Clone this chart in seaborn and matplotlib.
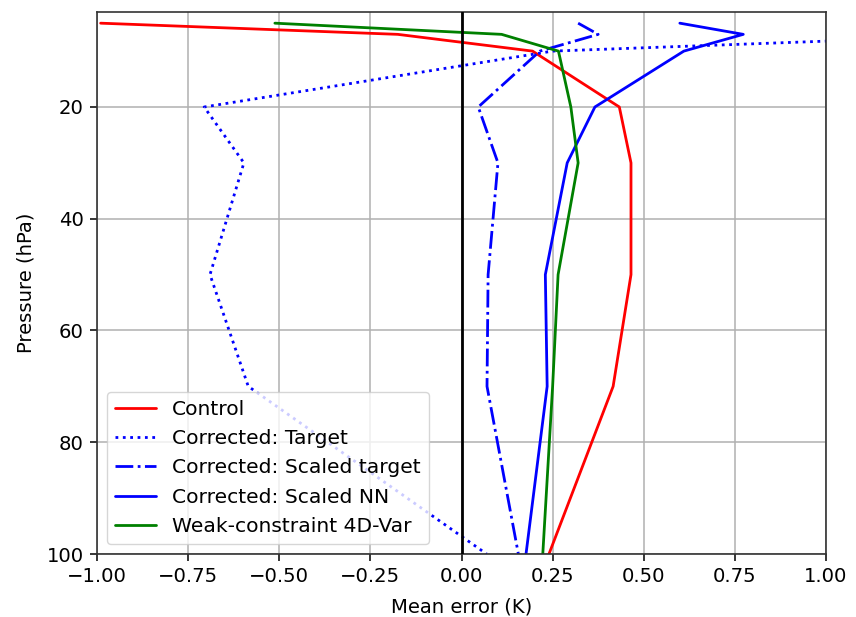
import matplotlib
matplotlib.use("Agg")
import matplotlib.pyplot as plt
import seaborn as sns
import pandas as pd

# Pressure levels (hPa)
pressure = [5, 7, 10, 20, 30, 50, 70, 100]

# Mean temperature error (K) per pressure level
control = [-0.99, -0.175, 0.195, 0.433, 0.465, 0.465, 0.416, 0.24]
corrected_target = [1.8, 1.51, 0.25, -0.706, -0.597, -0.69, -0.585, 0.069]
corrected_scaled_target = [0.32, 0.375, 0.215, 0.046, 0.10, 0.073, 0.07, 0.156]
corrected_scaled_nn = [0.599, 0.773, 0.61, 0.366, 0.29, 0.23, 0.235, 0.177]
weak_constraint = [-0.512, 0.11, 0.266, 0.30, 0.32, 0.265, 0.25, 0.223]

series = [
    ("Control", control, "red", "-"),
    ("Corrected: Target", corrected_target, "blue", ":"),
    ("Corrected: Scaled target", corrected_scaled_target, "blue", "-."),
    ("Corrected: Scaled NN", corrected_scaled_nn, "blue", "-"),
    ("Weak-constraint 4D-Var", weak_constraint, "green", "-"),
]

sns.set_style("white")
plt.rcParams["font.family"] = ["DejaVu Sans"]
plt.rcParams["text.color"] = "black"
plt.rcParams["axes.labelcolor"] = "black"
fs = 14.1

fig = plt.figure(figsize=(8.56, 6.17), dpi=100)
ax = fig.add_axes([97 / 856, 1 - 554 / 617, (826 - 97) / 856, (554 - 12) / 617])

for name, vals, color, ls in series:
    df = pd.DataFrame({"err": vals, "p": pressure})
    sns.lineplot(data=df, x="err", y="p", sort=False, estimator=None,
                 orient="y", color=color, linestyle=ls, linewidth=2.0,
                 label=name, ax=ax)

ax.axvline(0, color="black", linewidth=2.0, zorder=3)

ax.set_xlim(-1, 1)
ax.set_ylim(100, 3)
ax.set_xticks([-1, -0.75, -0.5, -0.25, 0, 0.25, 0.5, 0.75, 1])
ax.set_xticklabels(["−1.00", "−0.75", "−0.50", "−0.25", "0.00",
                    "0.25", "0.50", "0.75", "1.00"])
ax.set_yticks([20, 40, 60, 80, 100])
ax.grid(True, color="#b0b0b0", linewidth=1.1)
ax.set_axisbelow(True)
ax.tick_params(axis="both", labelsize=fs, direction="out", length=5,
               width=1.1, pad=4.5, left=True, bottom=True, colors="black")
for sp in ax.spines.values():
    sp.set_color("#333333")
    sp.set_linewidth(1.2)

ax.set_xlabel("Mean error (K)", fontsize=fs, color="black", labelpad=8)
ax.set_ylabel("Pressure (hPa)", fontsize=fs, color="black", labelpad=8)

leg = ax.legend(loc="lower left", fontsize=14.6, framealpha=0.8,
                edgecolor="#cccccc", handlelength=2.0)

fig.savefig("out.png", dpi=100)
